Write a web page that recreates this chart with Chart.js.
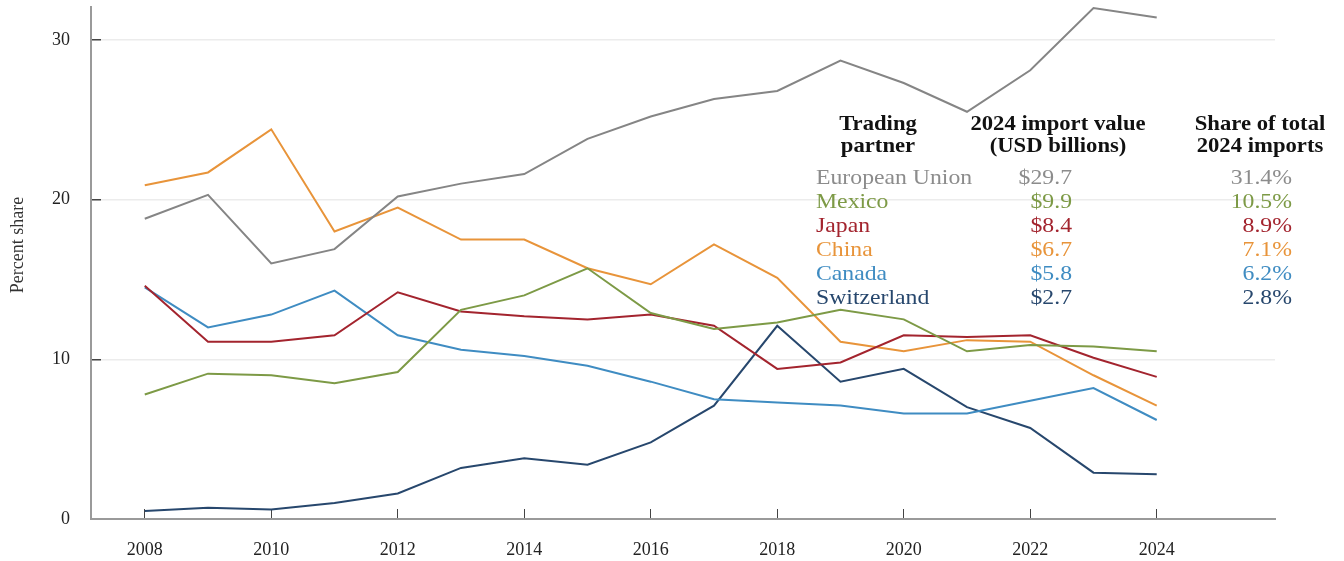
<!DOCTYPE html>
<html>
<head>
<meta charset="utf-8">
<script src="https://cdn.jsdelivr.net/npm/chart.js@4.4.1/dist/chart.umd.min.js"></script>
<style>
  html, body { margin: 0; padding: 0; background: #ffffff; }
  #wrap { width: 1344px; height: 561px; }
</style>
</head>
<body>
<div id="wrap"><canvas id="c" width="1344" height="561"></canvas></div>
<script>
// ---- data ----
const years = [2008, 2009, 2010, 2011, 2012, 2013, 2014, 2015, 2016, 2017, 2018, 2019, 2020, 2021, 2022, 2023, 2024];
const xTickYears = [2008, 2010, 2012, 2014, 2016, 2018, 2020, 2022, 2024];
const yTickValues = [0, 10, 20, 30];

const euShare          = [18.8, 20.3, 16.0, 16.9, 20.2, 21.0, 21.6, 23.8, 25.2, 26.3, 26.8, 28.7, 27.3, 25.5, 28.1, 32.0, 31.4];
const mexicoShare      = [7.8, 9.1, 9.0, 8.5, 9.2, 13.1, 14.0, 15.7, 12.9, 11.9, 12.3, 13.1, 12.5, 10.5, 10.9, 10.8, 10.5];
const japanShare       = [14.6, 11.1, 11.1, 11.5, 14.2, 13.0, 12.7, 12.5, 12.8, 12.1, 9.4, 9.8, 11.5, 11.4, 11.5, 10.1, 8.9];
const chinaShare       = [20.9, 21.7, 24.4, 18.0, 19.5, 17.5, 17.5, 15.7, 14.7, 17.2, 15.1, 11.1, 10.5, 11.2, 11.1, 9.0, 7.1];
const canadaShare      = [14.5, 12.0, 12.8, 14.3, 11.5, 10.6, 10.2, 9.6, 8.6, 7.5, 7.3, 7.1, 6.6, 6.6, 7.4, 8.2, 6.2];
const switzerlandShare = [0.5, 0.7, 0.6, 1.0, 1.6, 3.2, 3.8, 3.4, 4.8, 7.1, 12.1, 8.6, 9.4, 7.0, 5.7, 2.9, 2.8];

const partners      = ["European Union", "Mexico", "Japan", "China", "Canada", "Switzerland"];
const importValues  = ["$29.7", "$9.9", "$8.4", "$6.7", "$5.8", "$2.7"];
const totalShares   = ["31.4%", "10.5%", "8.9%", "7.1%", "6.2%", "2.8%"];
const headerPartner = ["Trading", "partner"];
const headerValue   = ["2024 import value", "(USD billions)"];
const headerShare   = ["Share of total", "2024 imports"];
const yAxisTitle    = "Percent share";

// ---- styles ----
const lineColors = ["#858585", "#7d9a46", "#a3242e", "#e8943a", "#3f8cc2", "#27476d"];
const textColors = ["#8c8c8c", "#7d9a46", "#a3242e", "#e8943a", "#3f8cc2", "#27476d"];
const seriesData = [euShare, mexicoShare, japanShare, chinaShare, canadaShare, switzerlandShare];
const SERIF = "'Liberation Serif', 'DejaVu Serif', serif";

const datasets = partners.map((name, i) => ({
  label: name,
  data: years.map((y, j) => ({ x: y, y: seriesData[i][j] })),
  borderColor: lineColors[i],
  backgroundColor: lineColors[i],
  borderWidth: 2,
  pointRadius: 0,
  tension: 0,
  fill: false,
  clip: false
}));

const tablePlugin = {
  id: 'tablePlugin',
  afterDraw(chart) {
    const ctx = chart.ctx;
    ctx.save();
    ctx.textBaseline = 'alphabetic';
    function txt(s, x, y, align, color, font, sx) {
      ctx.save();
      ctx.font = font;
      ctx.fillStyle = color;
      const w = ctx.measureText(s).width * sx;
      let left = x;
      if (align === 'center') left = x - w / 2;
      else if (align === 'right') left = x - w;
      ctx.translate(left, y);
      ctx.scale(sx, 1);
      ctx.textAlign = 'left';
      ctx.fillText(s, 0, 0);
      ctx.restore();
    }
    const hFont = "bold 21px " + SERIF;
    const rFont = "21px " + SERIF;
    const hBase = [130, 152];
    for (let k = 0; k < 2; k++) {
      txt(headerPartner[k], 878, hBase[k], 'center', '#111', hFont, 1.08);
      txt(headerValue[k], 1058, hBase[k], 'center', '#111', hFont, 1.08);
      txt(headerShare[k], 1260, hBase[k], 'center', '#111', hFont, 1.08);
    }
    for (let i = 0; i < partners.length; i++) {
      const y = 184 + i * 24;
      txt(partners[i], 816, y, 'left', textColors[i], rFont, 1.13);
      txt(importValues[i], 1072, y, 'right', textColors[i], rFont, 1.13);
      txt(totalShares[i], 1292, y, 'right', textColors[i], rFont, 1.13);
    }
    // y axis title
    ctx.save();
    ctx.font = "18px " + SERIF;
    ctx.fillStyle = '#333';
    ctx.translate(23, 245);
    ctx.rotate(-Math.PI / 2);
    ctx.textAlign = 'center';
    ctx.textBaseline = 'alphabetic';
    ctx.fillText(yAxisTitle, 0, 0);
    ctx.restore();
    ctx.restore();
  }
};

new Chart(document.getElementById('c'), {
  type: 'line',
  data: { datasets },
  plugins: [tablePlugin],
  options: {
    responsive: false,
    animation: false,
    events: [],
    layout: { padding: { top: 7, right: 69, left: 0, bottom: 0 } },
    plugins: { legend: { display: false }, tooltip: { enabled: false }, title: { display: false } },
    scales: {
      x: {
        type: 'linear',
        min: 2007.15,
        max: 2025.87,
        afterBuildTicks: (scale) => { scale.ticks = xTickYears.map(v => ({ value: v })); },
        afterFit: (scale) => { scale.height = 42; scale.paddingLeft = 0; scale.paddingRight = 0; },
        grid: {
          display: true,
          drawOnChartArea: false,
          drawTicks: true,
          tickLength: -10,
          tickColor: '#444',
          tickWidth: 1
        },
        border: { display: true, color: '#9a9a9a', width: 2 },
        ticks: {
          padding: 30,
          color: '#222',
          font: { family: SERIF, size: 18 },
          callback: (v) => String(v)
        }
      },
      y: {
        type: 'linear',
        min: 0,
        max: 32.06,
        afterBuildTicks: (scale) => { scale.ticks = yTickValues.map(v => ({ value: v })); },
        afterFit: (scale) => { scale.width = 91; scale.paddingTop = 0; scale.paddingBottom = 0; },
        grid: {
          display: true,
          drawOnChartArea: true,
          drawTicks: true,
          tickLength: -10,
          color: (c) => c.tick && c.tick.value === 0 ? 'rgba(0,0,0,0)' : '#ececec',
          tickColor: '#444',
          lineWidth: 1.5
        },
        border: { display: true, color: '#9a9a9a', width: 2 },
        ticks: {
          padding: 31,
          color: '#222',
          font: { family: SERIF, size: 18 },
          callback: (v) => String(v)
        },
        title: { display: false }
      }
    }
  }
});
</script>
</body>
</html>
